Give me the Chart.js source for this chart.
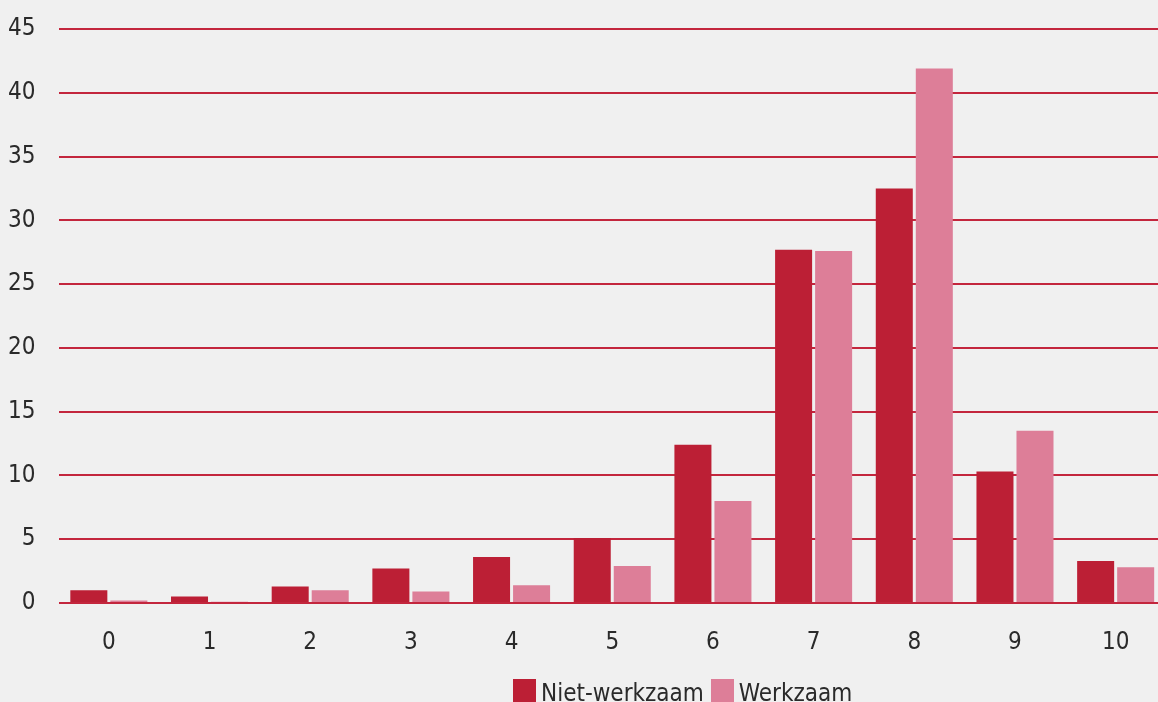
<!DOCTYPE html>
<html>
<head>
<meta charset="utf-8">
<script src="https://cdn.jsdelivr.net/npm/chart.js@4"></script>
<style>
  body { margin: 0; background: #f0f0f0; overflow: hidden; }
  #wrap { position: relative; width: 1158px; height: 702px; overflow: hidden; }
  .legend { position: absolute; top: 679px; left: 513px; display: flex; align-items: flex-start;
            font-family: "Liberation Sans Narrow", "DejaVu Sans Condensed", sans-serif; font-size: 24px; color: #2a2a2a; }
  .legend span.box { display: inline-block; width: 23px; height: 24px; margin-right: 5px; }
  .legend .item { display: flex; align-items: flex-start; margin-right: 7px; line-height: 28px; }
</style>
</head>
<body>
<div id="wrap">
  <canvas id="chart" width="1166" height="702"></canvas>
  <div class="legend">
    <div class="item"><span class="box" style="background:#bc1f35"></span>Niet-werkzaam</div>
    <div class="item"><span class="box" style="background:#dd7e98"></span>Werkzaam</div>
  </div>
</div>
<script>
// categorieën en waarden (%)
const categories = ['0', '1', '2', '3', '4', '5', '6', '7', '8', '9', '10'];
const nietWerkzaam = [1.0, 0.5, 1.3, 2.7, 3.6, 5.1, 12.4, 27.7, 32.5, 10.3, 3.3];
const werkzaam = [0.2, 0.1, 1.0, 0.9, 1.4, 2.9, 8.0, 27.6, 41.9, 13.5, 2.8];
const seriesNames = ['Niet-werkzaam', 'Werkzaam'];

const fontFamily = '"Liberation Sans Narrow", "DejaVu Sans Condensed", sans-serif';

new Chart(document.getElementById('chart'), {
    type: 'bar',
    data: {
        labels: categories,
        datasets: [
            { label: seriesNames[0], data: nietWerkzaam, backgroundColor: '#bc1f35' },
            { label: seriesNames[1], data: werkzaam, backgroundColor: '#dd7e98' }
        ]
    },
    options: {
        responsive: false,
        devicePixelRatio: 1,
        animation: false,
        layout: { padding: { top: 29, right: 0, bottom: 0, left: 0 } },
        datasets: { bar: { categoryPercentage: 0.795, barPercentage: 0.925 } },
        plugins: { legend: { display: false }, tooltip: { enabled: false } },
        scales: {
            x: {
                grid: { display: false },
                border: { display: false },
                ticks: { color: '#2a2a2a', font: { family: fontFamily, size: 24 }, padding: 17, maxRotation: 0 },
                afterFit: s => { s.height = 99; s.paddingLeft = 0; s.paddingRight = 0; }
            },
            y: {
                min: 0,
                max: 45,
                grid: { color: '#c3263d', lineWidth: 2, drawTicks: false },
                border: { display: false },
                ticks: { stepSize: 5, color: '#2a2a2a', font: { family: fontFamily, size: 24 }, padding: 23 },
                afterFit: s => { s.width = 58.5; s.paddingTop = 0; s.paddingBottom = 0; }
            }
        }
    }
});
</script>
</body>
</html>
